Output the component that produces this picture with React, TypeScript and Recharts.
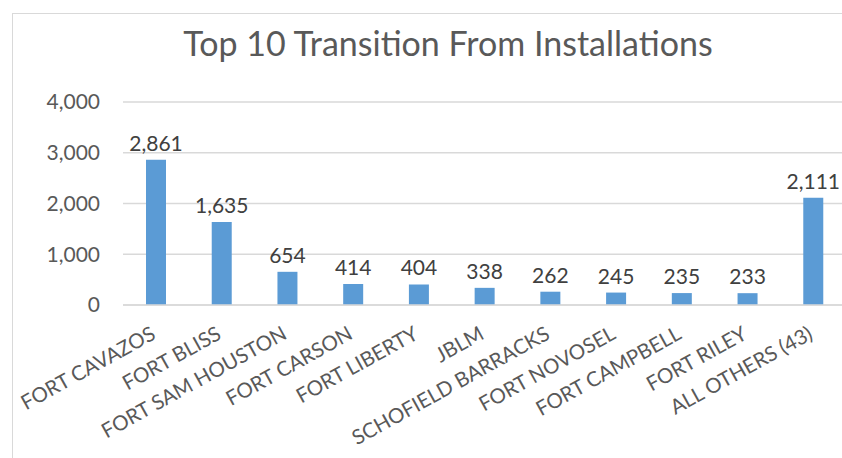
import { BarChart, Bar, XAxis, YAxis, CartesianGrid, LabelList } from 'recharts';

const installations = [
    'FORT CAVAZOS',
    'FORT BLISS',
    'FORT SAM HOUSTON',
    'FORT CARSON',
    'FORT LIBERTY',
    'JBLM',
    'SCHOFIELD BARRACKS',
    'FORT NOVOSEL',
    'FORT CAMPBELL',
    'FORT RILEY',
    'ALL OTHERS (43)',
];
const transitions = [2861, 1635, 654, 414, 404, 338, 262, 245, 235, 233, 2111];
const yTicks = [0, 1000, 2000, 3000, 4000];

const data = installations.map((name, i) => ({ name, value: transitions[i] }));

const FONT = 'Lato, "Open Sans", sans-serif';
const fmt = (v: number) => v.toLocaleString('en-US');

const RotatedTick = (props: any) => {
    const { x, y, payload } = props;
    return (
        <g transform={`translate(${x + 1},${y + 31})`}>
            <text
                transform="rotate(-29)"
                textAnchor="end"
                fill="#595959"
                fontSize={20.5}
                fontFamily={FONT}
            >
                {payload.value}
            </text>
        </g>
    );
};

const App = () => {
    return (
        <div style={{ position: 'fixed', left: 0, top: 0, width: 842, height: 458, overflow: 'hidden', background: '#fff' }}>
            <div
                style={{
                    position: 'absolute',
                    left: 12,
                    top: 13,
                    width: 880,
                    height: 470,
                    border: '1px solid #d9d9d9',
                }}
            >
                <div
                    style={{
                        position: 'absolute',
                        left: 0,
                        top: 8,
                        width: 870,
                        textAlign: 'center',
                        fontFamily: FONT,
                        fontSize: 34,
                        color: '#595959',
                    }}
                >
                    Top 10 Transition From Installations
                </div>
                <BarChart
                    width={880}
                    height={470}
                    data={data}
                    margin={{ top: 88, right: 47, left: 0, bottom: 29 }}
                    barSize={20}
                >
                    <CartesianGrid vertical={false} stroke="#d9d9d9" strokeWidth={1.5} />
                    <XAxis
                        dataKey="name"
                        interval={0}
                        height={150}
                        tick={<RotatedTick />}
                        tickLine={false}
                        tickSize={0}
                        axisLine={{ stroke: '#d9d9d9', strokeWidth: 1.5 }}
                    />
                    <YAxis
                        width={110}
                        domain={[0, 4000]}
                        ticks={yTicks}
                        tickFormatter={fmt}
                        axisLine={false}
                        tickLine={false}
                        tickSize={0}
                        tickMargin={23}
                        tick={{ fill: '#595959', fontSize: 21, fontFamily: FONT }}
                    />
                    <Bar dataKey="value" fill="#5B9BD5" isAnimationActive={false}>
                        <LabelList
                            dataKey="value"
                            position="top"
                            offset={9}
                            formatter={(v: any) => fmt(Number(v))}
                            fill="#404040"
                            fontSize={21}
                            fontFamily={FONT}
                        />
                    </Bar>
                </BarChart>
            </div>
        </div>
    );
};

export default App;
